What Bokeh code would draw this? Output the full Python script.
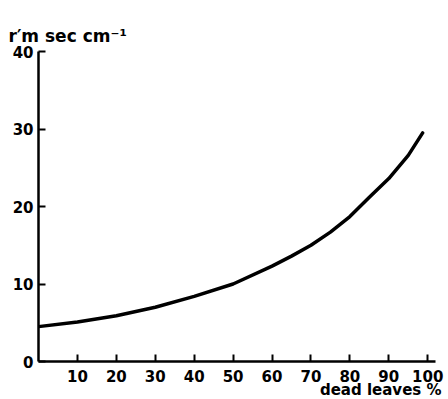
from bokeh.plotting import figure
from bokeh.models import Range1d, FixedTicker, Title
from bokeh.embed import file_html
from bokeh.resources import INLINE

# data
dead_leaves = [0, 10, 20, 30, 40, 50, 60, 65, 70, 75, 80, 85, 90, 95, 98.7]
r_m = [4.5, 5.1, 5.9, 7.0, 8.4, 10.0, 12.3, 13.6, 15.0, 16.7, 18.7, 21.2, 23.6, 26.6, 29.5]
x_ticks = [10, 20, 30, 40, 50, 60, 70, 80, 90, 100]
y_ticks = [0, 10, 20, 30, 40]
y_title = "r′m sec cm⁻¹"
x_title = "dead leaves %"

FONT = "DejaVu Sans"

p = figure(width=448, height=399, output_backend="svg", toolbar_location=None,
           x_range=Range1d(0, 102), y_range=Range1d(0, 40),
           min_border_left=38, min_border_right=13, min_border_top=51, min_border_bottom=38)
p.outline_line_color = None
p.grid.visible = False
p.background_fill_color = "white"

p.line(dead_leaves, r_m, line_width=3.5, line_color="black", line_cap="round",
       line_join="round")

for ax in (p.xaxis[0], p.yaxis[0]):
    ax.axis_line_width = 2.5
    ax.axis_line_color = "black"
    ax.major_tick_in = 7
    ax.major_tick_out = 0
    ax.major_tick_line_width = 2
    ax.major_tick_line_color = "black"
    ax.minor_tick_line_color = None
    ax.major_label_text_font = FONT
    ax.major_label_text_font_size = "15px"
    ax.major_label_text_font_style = "bold"
    ax.major_label_text_color = "black"

p.xaxis[0].ticker = FixedTicker(ticks=x_ticks)
p.yaxis[0].ticker = FixedTicker(ticks=y_ticks)
p.xaxis[0].major_label_standoff = 8
p.yaxis[0].major_label_standoff = 5

p.add_layout(Title(text=y_title, align="left", offset=-30, standoff=12,
                   text_font=FONT, text_font_size="17px", text_font_style="bold",
                   text_color="black"), "above")
p.add_layout(Title(text=x_title, align="right", offset=-6, standoff=-11,
                   text_font=FONT, text_font_size="15px", text_font_style="bold",
                   text_color="black"), "below")

open("out.html", "w").write(file_html(p, INLINE))
